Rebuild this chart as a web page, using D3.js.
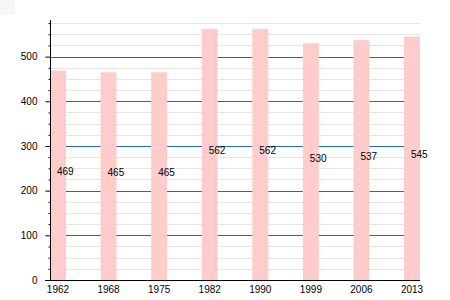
<!DOCTYPE html>
<html>
<head>
<meta charset="utf-8">
<script src="https://cdn.jsdelivr.net/npm/d3@7"></script>
<style>
  body { margin: 0; background: #fff; }
  text { font-family: "Liberation Sans", Arial, sans-serif; font-size: 10px; fill: #000; }
</style>
</head>
<body>
<script>
// population per census year
var years = ["1962", "1968", "1975", "1982", "1990", "1999", "2006", "2013"];
var population = [469, 465, 465, 562, 562, 530, 537, 545];
var majorTicks = [0, 100, 200, 300, 400, 500];
var minorTicks = [25, 50, 75, 125, 150, 175, 225, 250, 275, 325, 350, 375, 425, 450, 475, 525, 550, 575];

// plot edges (window.top is taken, so own names)
var plotLeft = 50, plotRight = 420, plotTop = 20, plotBottom = 280;

var svg = d3.select("body").append("svg")
    .attr("width", 450)
    .attr("height", 300);

// faint square top-left
svg.append("rect").attr("x", 0).attr("y", 0).attr("width", 15).attr("height", 15).attr("fill", "#f7f7f7");

var x = d3.scaleBand()
    .domain(years)
    .range([plotLeft, plotRight])
    .paddingInner(0.684)
    .paddingOuter(0);

var y = d3.scaleLinear()
    .domain([0, 582])
    .range([plotBottom, plotTop]);

// light grid every 25
svg.selectAll(".minor")
    .data(minorTicks)
  .enter().append("line")
    .attr("class", "minor")
    .attr("x1", plotLeft).attr("x2", plotRight)
    .attr("y1", function(d) { return Math.round(y(d)) + 0.5; })
    .attr("y2", function(d) { return Math.round(y(d)) + 0.5; })
    .attr("stroke", "#e4e4e4");

// blue grid every 100
svg.selectAll(".major")
    .data(majorTicks.filter(function(d) { return d > 0; }))
  .enter().append("line")
    .attr("class", "major")
    .attr("x1", plotLeft).attr("x2", plotRight)
    .attr("y1", function(d) { return Math.round(y(d)) + 0.5; })
    .attr("y2", function(d) { return Math.round(y(d)) + 0.5; })
    .attr("stroke", "#2468ae");

svg.selectAll(".bar")
    .data(population)
  .enter().append("rect")
    .attr("class", "bar")
    .attr("x", function(d, i) { return x(years[i]); })
    .attr("width", x.bandwidth())
    .attr("y", function(d) { return y(d); })
    .attr("height", function(d) { return y(0) - y(d); })
    .attr("fill", "#ffcccc");

// values at mid height of the bars
svg.selectAll(".val")
    .data(population)
  .enter().append("text")
    .attr("class", "val")
    .attr("x", function(d, i) { return x(years[i]) + x.bandwidth() / 2 - 1; })
    .attr("y", function(d) { return (y(d) + y(0)) / 2; })
    .text(function(d) { return d; });

// y axis
var yAxis = svg.append("g")
    .attr("transform", "translate(" + (plotLeft + 0.5) + ",0)")
    .call(d3.axisLeft(y).tickValues(majorTicks).tickSize(5).tickSizeOuter(0).tickPadding(8));
yAxis.select(".domain").attr("d", "M0," + plotTop + "V" + plotBottom);

svg.append("g")
    .attr("transform", "translate(" + (plotLeft + 0.5) + ",0)")
    .call(d3.axisLeft(y).tickValues(minorTicks).tickSize(2).tickFormat(""))
    .select(".domain").remove();

// x axis
var xAxis = svg.append("g")
    .attr("transform", "translate(0," + (plotBottom + 0.5) + ")")
    .call(d3.axisBottom(x).tickSize(0).tickPadding(5));
xAxis.select(".domain").attr("d", "M" + (plotLeft - 5) + ",0H" + plotRight);

svg.selectAll(".tick text")
    .style("font-family", "'Liberation Sans', Arial, sans-serif")
    .style("font-size", "10px")
    .attr("fill", "#000");
</script>
</body>
</html>
